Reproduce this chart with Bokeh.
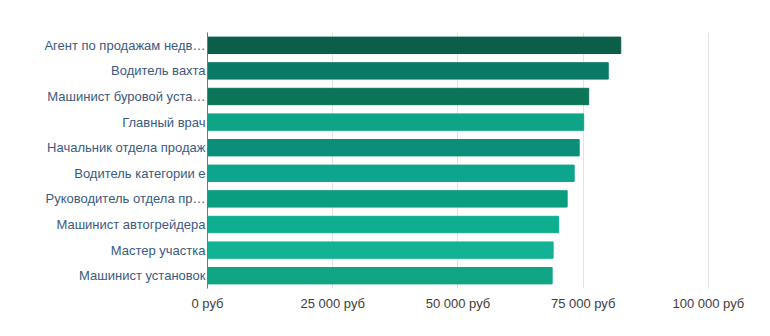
from bokeh.plotting import figure
from bokeh.models import ColumnDataSource, CustomJSTickFormatter, FixedTicker, Range1d
from bokeh.embed import file_html
from bokeh.resources import INLINE

categories = [
    "Агент по продажам недв…",
    "Водитель вахта",
    "Машинист буровой уста…",
    "Главный врач",
    "Начальник отдела продаж",
    "Водитель категории е",
    "Руководитель отдела пр…",
    "Машинист автогрейдера",
    "Мастер участка",
    "Машинист установок",
]
salaries = [82500, 80000, 76100, 75100, 74200, 73200, 71800, 70100, 69000, 68800]
bar_colors = ["#0b5e4a", "#0a7a67", "#0b7559", "#0ea587", "#0b8f78",
              "#0ea58f", "#0b9d80", "#10ae90", "#12b395", "#0fa585"]
tick_values = [0, 25000, 50000, 75000, 100000]

src = ColumnDataSource(dict(cat=categories, val=salaries, color=bar_colors))

p = figure(width=770, height=336, y_range=list(reversed(categories)),
           x_range=Range1d(0, 110000), output_backend="svg", toolbar_location=None,
           min_border_left=207, min_border_right=12, min_border_top=32, min_border_bottom=48)
p.hbar(y="cat", left=0, right="val", height=0.64, color="color", source=src)

p.outline_line_color = None
p.ygrid.grid_line_color = None
p.xgrid.grid_line_color = "#e2e2e2"
p.xaxis.ticker = FixedTicker(ticks=tick_values)
p.xaxis.formatter = CustomJSTickFormatter(code="""
const s = Math.round(tick).toString().replace(/\\B(?=(\\d{3})+(?!\\d))/g, ' ');
return s + ' руб';
""")
p.xaxis.axis_line_color = None
p.xaxis.major_tick_line_color = None
p.xaxis.major_tick_out = 0
p.xaxis.minor_tick_line_color = None
p.xaxis.major_label_text_font = "Liberation Sans"
p.xaxis.major_label_text_font_size = "13px"
p.xaxis.major_label_text_color = "#3d3d3d"
p.xaxis.major_label_standoff = 7

p.yaxis.axis_line_color = "#10a386"
p.yaxis.axis_line_width = 1
p.yaxis.major_tick_line_color = None
p.yaxis.major_tick_out = 0
p.yaxis.minor_tick_line_color = None
p.yaxis.major_label_text_font = "Liberation Sans"
p.yaxis.major_label_text_font_size = "13px"
p.yaxis.major_label_text_color = "#3b5a80"
p.yaxis.major_label_standoff = 2

open("out.html", "w").write(file_html(p, INLINE))
